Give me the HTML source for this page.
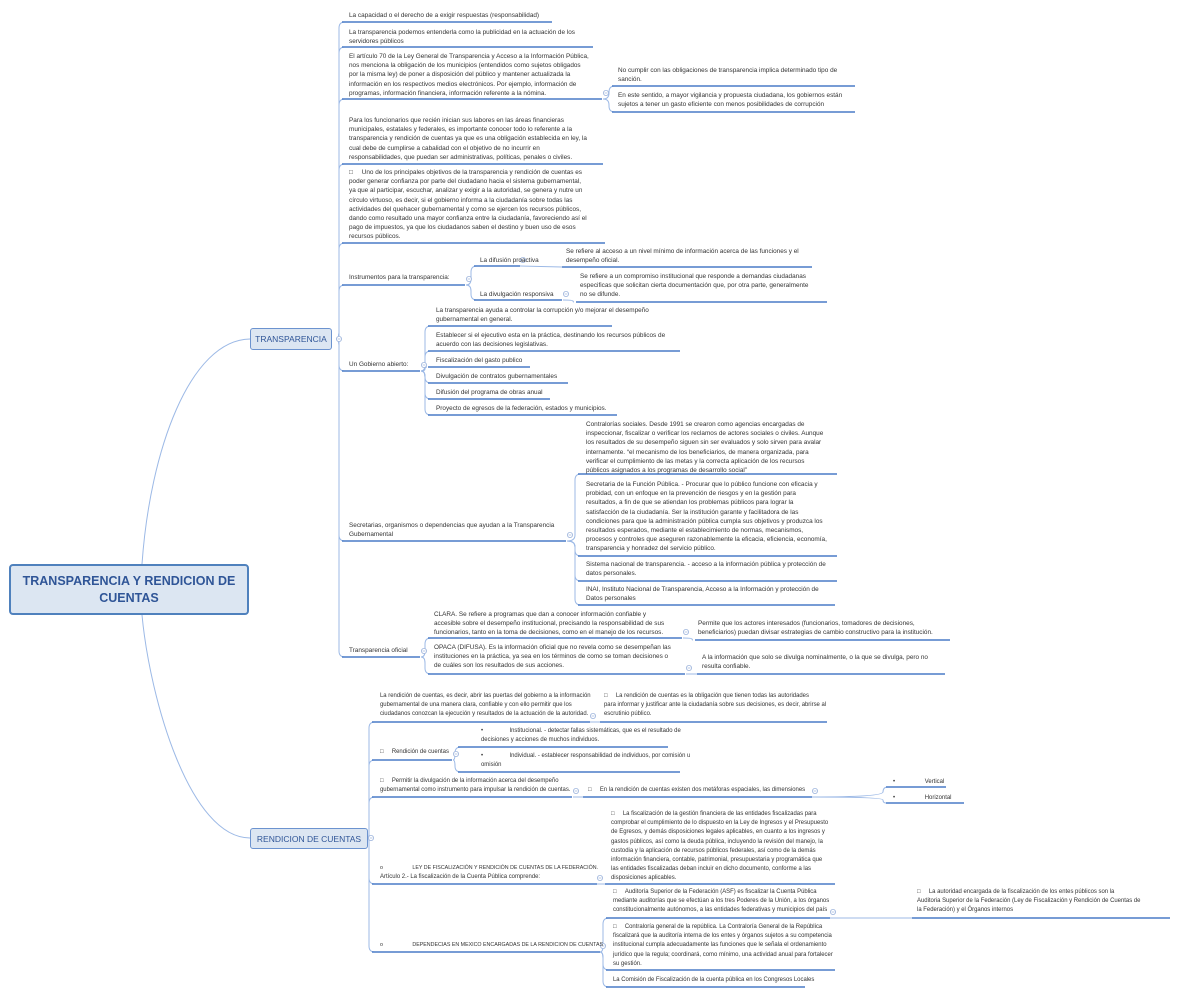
<!DOCTYPE html>
<html><head><meta charset="utf-8">
<style>
html,body{margin:0;padding:0;background:#fff;width:1180px;height:995px;overflow:hidden;position:relative;font-family:"Liberation Sans",sans-serif}
.t{position:absolute;font-size:6.4px;line-height:9.2px;color:#333;white-space:nowrap}
.t.r{font-size:5.95px}
.t.q{font-size:5.3px;line-height:9.2px}
.root{position:absolute;left:9px;top:564px;width:236px;height:47px;background:#dce6f2;border:2px solid #4f81bd;border-radius:4px;color:#2f5597;font-weight:bold;font-size:12.5px;line-height:17px;text-align:center;display:flex;align-items:center;justify-content:center}
.box{position:absolute;background:#dce6f2;border:1px solid #6c93cf;border-radius:3px;color:#2f5597;font-size:8.5px;display:flex;align-items:center;justify-content:center}
svg{position:absolute;left:0;top:0}
</style></head><body>
<svg id="s" width="1180" height="995"></svg>
<div class="root">TRANSPARENCIA Y RENDICION DE<br>CUENTAS</div>
<div class="box" style="left:250px;top:328px;width:80px;height:20px">TRANSPARENCIA</div>
<div class="box" style="left:250px;top:828px;width:116px;height:19px">RENDICION DE CUENTAS</div>
<div id="n"></div>
<script>
function sp(n){return '&nbsp;'.repeat(n);}
const N=[
[349,11,"La capacidad o el derecho de a exigir respuestas (responsabilidad)",342,552,22],
[349,28,"La transparencia podemos entenderla como la publicidad en la actuación de los<br>servidores públicos",342,593,47],
[349,52,"El artículo 70 de la Ley General de Transparencia y Acceso a la Información Pública,<br>nos menciona la obligación de los municipios (entendidos como sujetos obligados<br>por la misma ley) de poner a disposición del público y mantener actualizada la<br>información en los respectivos medios electrónicos. Por ejemplo, información de<br>programas, información financiera, información referente a la nómina.",342,602,99],
[618,66,"No cumplir con las obligaciones de transparencia implica determinado tipo de<br>sanción.",612,855,86],
[618,91,"En este sentido, a mayor vigilancia y propuesta ciudadana, los gobiernos están<br>sujetos a tener un gasto eficiente con menos posibilidades de corrupción",612,855,112],
[349,116,"Para los funcionarios que recién inician sus labores en las áreas financieras<br>municipales, estatales y federales, es importante conocer todo lo referente a la<br>transparencia y rendición de cuentas ya que es una obligación establecida en ley, la<br>cual debe de cumplirse a cabalidad con el objetivo de no incurrir en<br>responsabilidades, que puedan ser administrativas, políticas, penales o civiles.",342,603,164],
[349,168,"□"+sp(5)+"Uno de los principales objetivos de la transparencia y rendición de cuentas es<br>poder generar confianza por parte del ciudadano hacia el sistema gubernamental,<br>ya que al participar, escuchar, analizar y exigir a la autoridad, se genera y nutre un<br>círculo virtuoso, es decir, si el gobierno informa a la ciudadanía sobre todas las<br>actividades del quehacer gubernamental y como se ejercen los recursos públicos,<br>dando como resultado una mayor confianza entre la ciudadanía, favoreciendo así el<br>pago de impuestos, ya que los ciudadanos saben el destino y buen uso de esos<br>recursos públicos.",342,605,243],
[349,273,"Instrumentos para la transparencia:",342,465,285],
[480,256,"La difusión proactiva",474,520,266],
[566,247,"Se refiere al acceso a un nivel mínimo de información acerca de las funciones y el<br>desempeño oficial.",562,812,267],
[480,290,"La divulgación responsiva",474,562,300],
[580,272,"Se refiere a un compromiso institucional que responde a demandas ciudadanas<br>especificas que solicitan cierta documentación que, por otra parte, generalmente<br>no se difunde.",576,827,302],
[349,360,"Un Gobierno abierto:",342,420,371],
[436,306,"La transparencia ayuda a controlar la corrupción y/o mejorar el desempeño<br>gubernamental en general.",428,612,326],
[436,331,"Establecer si el ejecutivo esta en la práctica, destinando los recursos públicos de<br>acuerdo con las decisiones legislativas.",428,680,351],
[436,356,"Fiscalización del gasto publico",428,530,367],
[436,372,"Divulgación de contratos gubernamentales",428,568,383],
[436,388,"Difusión del programa de obras anual",428,550,399],
[436,404,"Proyecto de egresos de la federación, estados y municipios.",428,617,415],
[349,521,"Secretarias, organismos o dependencias que ayudan a la Transparencia<br>Gubernamental",342,566,541],
[586,420,"Contralorías sociales. Desde 1991 se crearon como agencias encargadas de<br>inspeccionar, fiscalizar o verificar los reclamos de actores sociales o civiles. Aunque<br>los resultados de su desempeño siguen sin ser evaluados y solo sirven para avalar<br>internamente. “el mecanismo de los beneficiarios, de manera organizada, para<br>verificar el cumplimiento de las metas y la correcta aplicación de los recursos<br>públicos asignados a los programas de desarrollo social”",578,837,474],
[586,480,"Secretaria de la Función Pública. - Procurar que lo público funcione con eficacia y<br>probidad, con un enfoque en la prevención de riesgos y en la gestión para<br>resultados, a fin de que se atiendan los problemas públicos para lograr la<br>satisfacción de la ciudadanía. Ser la institución garante y facilitadora de las<br>condiciones para que la administración pública cumpla sus objetivos y produzca los<br>resultados esperados, mediante el establecimiento de normas, mecanismos,<br>procesos y controles que aseguren razonablemente la eficacia, eficiencia, economía,<br>transparencia y honradez del servicio público.",578,837,556],
[586,560,"Sistema nacional de transparencia. - acceso a la información pública y protección de<br>datos personales.",578,837,581],
[586,585,"INAI, Instituto Nacional de Transparencia, Acceso a la Información y protección de<br>Datos personales",578,835,605],
[349,646,"Transparencia oficial",342,420,657],
[434,610,"CLARA. Se refiere a programas que dan a conocer información confiable y<br>accesible sobre el desempeño institucional, precisando la responsabilidad de sus<br>funcionarios, tanto en la toma de decisiones, como en el manejo de los recursos.",428,682,638],
[698,619,"Permite que los actores interesados (funcionarios, tomadores de decisiones,<br>beneficiarios) puedan divisar estrategias de cambio constructivo para la institución.",695,950,640],
[434,643,"OPACA (DIFUSA). Es la información oficial que no revela como se desempeñan las<br>instituciones en la práctica, ya sea en los términos de como se toman decisiones o<br>de cuáles son los resultados de sus acciones.",428,685,674],
[702,653,"A la información que solo se divulga nominalmente, o la que se divulga, pero no<br>resulta confiable.",697,945,674],
[380,692,"La rendición de cuentas, es decir, abrir las puertas del gobierno a la información<br>gubernamental de una manera clara, confiable y con ello permitir que los<br>ciudadanos conozcan la ejecución y resultados de la actuación de la autoridad.",372,590,722,1],
[604,692,"□"+sp(5)+"La rendición de cuentas es la obligación que tienen todas las autoridades<br>para informar y justificar ante la ciudadanía sobre sus decisiones, es decir, abrirse al<br>escrutinio público.",600,827,722,1],
[380,748,"□"+sp(5)+"Rendición de cuentas",372,452,760,1],
[481,727,"•"+sp(16)+"Institucional. - detectar fallas sistemáticas, que es el resultado de<br>decisiones y acciones de muchos individuos.",458,668,747,1],
[481,752,"•"+sp(16)+"Individual. - establecer responsabilidad de individuos, por comisión u<br>omisión",458,680,772,1],
[380,777,"□"+sp(5)+"Permitir la divulgación de la información acerca del desempeño<br>gubernamental como instrumento para impulsar la rendición de cuentas.",372,572,797,1],
[588,786,"□"+sp(5)+"En la rendición de cuentas existen dos metáforas espaciales, las dimensiones",583,812,797,1],
[893,778,"•"+sp(18)+"Vertical",886,946,787,1],
[893,794,"•"+sp(18)+"Horizontal",886,964,803,1],
[380,864,"o"+sp(20)+"LEY DE FISCALIZACIÓN Y RENDICIÓN DE CUENTAS DE LA FEDERACIÓN.<br><span style='font-size:5.95px'>Artículo 2.- La fiscalización de la Cuenta Pública comprende:</span>",372,597,884,2],
[611,810,"□"+sp(5)+"La fiscalización de la gestión financiera de las entidades fiscalizadas para<br>comprobar el cumplimiento de lo dispuesto en la Ley de Ingresos y el Presupuesto<br>de Egresos, y demás disposiciones legales aplicables, en cuanto a los ingresos y<br>gastos públicos, así como la deuda pública, incluyendo la revisión del manejo, la<br>custodia y la aplicación de recursos públicos federales, así como de la demás<br>información financiera, contable, patrimonial, presupuestaria y programática que<br>las entidades fiscalizadas deban incluir en dicho documento, conforme a las<br>disposiciones aplicables.",605,835,884,1],
[380,941,"o"+sp(20)+"DEPENDECIAS EN MEXICO ENCARGADAS DE LA RENDICION DE CUENTAS",372,600,952,2],
[613,888,"□"+sp(5)+"Auditoría Superior de la Federación (ASF) es fiscalizar la Cuenta Pública<br>mediante auditorías que se efectúan a los tres Poderes de la Unión, a los órganos<br>constitucionalmente autónomos, a las entidades federativas y municipios del país",606,830,918,1],
[917,888,"□"+sp(5)+"La autoridad encargada de la fiscalización de los entes públicos son la<br>Auditoria Superior de la Federación (Ley de Fiscalización y Rendición de Cuentas de<br>la Federación) y el Órganos internos",912,1170,918,1],
[613,923,"□"+sp(5)+"Contraloría general de la república. La Contraloría General de la República<br>fiscalizará que la auditoría interna de los entes y órganos sujetos a su competencia<br>institucional cumpla adecuadamente las funciones que le señala el ordenamiento<br>jurídico que la regula; coordinará, como mínimo, una actividad anual para fortalecer<br>su gestión.",606,835,970,1],
[613,976,"La Comisión de Fiscalización de la cuenta pública en los Congresos Locales",606,805,987,1]
];
const CC=[
[336,339,[0,1,2,5,6,7,12,19,24],0],
[603,99,[3,4],1],
[466,285,[8,10],1],
[520,266,[9],1],
[563,300,[11],1],
[421,371,[13,14,15,16,17,18],1],
[567,541,[20,21,22,23],1],
[421,657,[25,27],1],
[683,638,[26],1],
[686,674,[28],1],
[368,838,[29,31,34,38,40],0],
[590,722,[30],1],
[453,760,[32,33],1],
[573,797,[35],1],
[812,797,[36,37],1],
[597,884,[39],1],
[600,952,[41,43,44],1],
[830,918,[42],1]
];
let h='';
N.forEach(d=>{h+=`<div class="t${d[6]==1?' r':d[6]==2?' q':''}" style="left:${d[0]}px;top:${d[1]}px">${d[2]}</div>`});
document.getElementById('n').innerHTML=h;
let s='';
const col='#4a7cc7',lc='#9cb9e6';
function conn(ax,ay,cx,cy){
  const tx=cx-3, r=6;
  if(Math.abs(cy-ay)<2){return `<path d="M${ax} ${ay} L${cx} ${cy}" stroke="${lc}" fill="none" stroke-width="1"/>`;}
  const sg=cy>ay?1:-1;
  const rr=Math.min(r,Math.abs(cy-ay)/2);
  return `<path d="M${ax} ${ay} Q${tx} ${ay} ${tx} ${ay+sg*rr} L${tx} ${cy-sg*rr} Q${tx} ${cy} ${tx+rr} ${cy}" stroke="${lc}" fill="none" stroke-width="1"/>`;
}
CC.forEach(g=>{const [ax,ay,ch,off]=g;
  ch.forEach(i=>{const d=N[i];s+=conn(ax,ay,d[3],d[5]);});
  const cy=off?ay-6:ay;
  s+=`<circle cx="${ax+3}" cy="${cy}" r="2.6" fill="#fff" stroke="#9cb3dc" stroke-width="0.8"/><line x1="${ax+1.5}" y1="${cy}" x2="${ax+4.5}" y2="${cy}" stroke="#9cb3dc" stroke-width="0.7"/>`;
});
N.forEach(d=>{s+=`<line x1="${d[3]}" y1="${d[5]}" x2="${d[4]}" y2="${d[5]}" stroke="${col}" stroke-width="1.6"/>`});
s+=`<path d="M142 564 C150 450 190 340 250 339" stroke="${lc}" fill="none" stroke-width="1"/>`;
s+=`<path d="M142 615 C150 700 190 838 250 838" stroke="${lc}" fill="none" stroke-width="1"/>`;
document.getElementById('s').innerHTML=s;
</script>
</body></html>
